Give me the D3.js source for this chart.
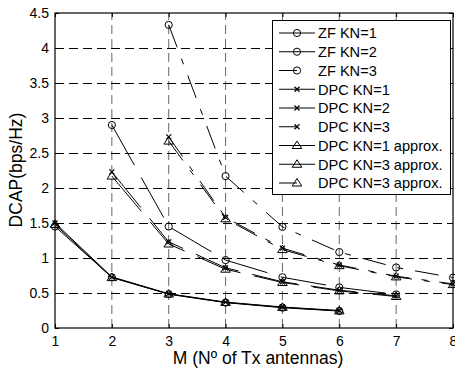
<!DOCTYPE html>
<html><head><meta charset="utf-8">
<script src="https://cdn.jsdelivr.net/npm/d3@7"></script>
<style>body{margin:0;background:#fff}svg{display:block}text{font-family:"Liberation Sans",Arial,sans-serif;fill:#000}</style>
</head><body><svg id="c" width="455" height="370"></svg>
<script>
const xTicks = [1,2,3,4,5,6,7,8];
const yTicks = [0,0.5,1,1.5,2,2.5,3,3.5,4,4.5];
const yTickLabels = ["0","0.5","1","1.5","2","2.5","3","3.5","4","4.5"];
const xLabel = "M (Nº of Tx antennas)";
const yLabel = "DCAP(bps/Hz)";

const zfKN1_M = [1,2,3,4,5,6];
const zfKN1 = [1.45,0.725,0.483,0.363,0.29,0.242];
const zfKN2_M = [2,3,4,5,6,7];
const zfKN2 = [2.9,1.45,0.97,0.725,0.58,0.48];
const zfKN3_M = [3,4,5,6,7,8];
const zfKN3 = [4.33,2.17,1.445,1.085,0.865,0.72];
const dpcKN1_M = [1,2,3,4,5,6];
const dpcKN1 = [1.5,0.73,0.49,0.37,0.3,0.25];
const dpcKN2_M = [2,3,4,5,6,7];
const dpcKN2 = [2.23,1.23,0.86,0.66,0.54,0.46];
const dpcKN3_M = [3,4,5,6,7,8];
const dpcKN3 = [2.73,1.58,1.14,0.9,0.74,0.63];
const apKN1_M = [1,2,3,4,5,6];
const apKN1 = [1.48,0.72,0.485,0.365,0.295,0.245];
const apKN2_M = [2,3,4,5,6,7];
const apKN2 = [2.17,1.2,0.84,0.65,0.53,0.45];
const apKN3_M = [3,4,5,6,7,8];
const apKN3 = [2.67,1.56,1.12,0.89,0.73,0.62];

const labels = ["ZF KN=1","ZF KN=2","ZF KN=3","DPC KN=1","DPC KN=2","DPC KN=3","DPC KN=1 approx.","DPC KN=3 approx.","DPC KN=3 approx."];
const markers = ["o","o","o","x","x","x","t","t","t"];
const dashes = [null,"46,14","24,12,6,12",null,"46,14","24,12,6,12",null,"46,14","24,12,6,12"];
const seriesM = [zfKN1_M,zfKN2_M,zfKN3_M,dpcKN1_M,dpcKN2_M,dpcKN3_M,apKN1_M,apKN2_M,apKN3_M];
const seriesV = [zfKN1,zfKN2,zfKN3,dpcKN1,dpcKN2,dpcKN3,apKN1,apKN2,apKN3];

const svg = d3.select("#c");
const L=55,R=453,T=13,B=328;
const x = d3.scaleLinear().domain([1,8]).range([L,R]);
const y = d3.scaleLinear().domain([0,4.5]).range([B,T]);

// grid
const g = svg.append("g");
g.selectAll(".vg").data(xTicks.slice(1,-1)).enter().append("line")
 .attr("x1",d=>x(d)).attr("x2",d=>x(d)).attr("y1",B).attr("y2",T)
 .attr("stroke","#666").attr("stroke-width",1).attr("stroke-dasharray","9,5");
g.selectAll(".hg").data(yTicks.slice(1,-1)).enter().append("line")
 .attr("y1",d=>Math.round(y(d))+0.5).attr("y2",d=>Math.round(y(d))+0.5).attr("x1",L).attr("x2",R)
 .attr("stroke","#000").attr("stroke-width",1).attr("stroke-dasharray","9,5");

// axes
const xa = svg.append("g").attr("transform",`translate(0,${B})`)
 .call(d3.axisBottom(x).tickValues(xTicks).tickFormat(d3.format("d")).tickSizeInner(-4).tickSizeOuter(0).tickPadding(8));
const xt = svg.append("g").attr("transform",`translate(0,${T})`)
 .call(d3.axisTop(x).tickValues(xTicks).tickFormat("").tickSizeInner(-4).tickSizeOuter(0));
const ya = svg.append("g").attr("transform",`translate(${L},0)`)
 .call(d3.axisLeft(y).tickValues(yTicks).tickFormat((d,i)=>yTickLabels[i]).tickSizeInner(-4).tickSizeOuter(0).tickPadding(6));
const yr = svg.append("g").attr("transform",`translate(${R},0)`)
 .call(d3.axisRight(y).tickValues(yTicks).tickFormat("").tickSizeInner(-4).tickSizeOuter(0));
[xa,xt,ya,yr].forEach(a=>{a.select(".domain").remove();a.selectAll("line").attr("stroke","#000");a.selectAll("text").style("font-size","14px").attr("font-family","Liberation Sans, Arial, sans-serif");});

// lines
const line = d3.line().x(d=>x(d[0])).y(d=>y(d[1]));
function drawMarker(sel,type,cx,cy){
  if(type==="o") sel.append("circle").attr("cx",cx).attr("cy",cy).attr("r",3.6).attr("fill","none").attr("stroke","#000").attr("stroke-width",1);
  else if(type==="x") sel.append("path").attr("d",`M${cx-2.5},${cy-2.5}L${cx+2.5},${cy+2.5}M${cx-2.5},${cy+2.5}L${cx+2.5},${cy-2.5}`).attr("stroke","#000").attr("stroke-width",1.2);
  else sel.append("path").attr("d",`M${cx},${cy-4.5}L${cx+4.8},${cy+3}L${cx-4.8},${cy+3}Z`).attr("fill","none").attr("stroke","#000").attr("stroke-width",1);
}
seriesV.forEach((vals,i)=>{
  const pts = vals.map((v,j)=>[seriesM[i][j],v]);
  const p = svg.append("path").attr("d",line(pts)).attr("fill","none").attr("stroke","#000").attr("stroke-width",1);
  if(dashes[i]) p.attr("stroke-dasharray",dashes[i]);
  const mg = svg.append("g");
  pts.forEach(pt=>drawMarker(mg,markers[i],x(pt[0]),y(pt[1])));
});

// box
svg.append("rect").attr("x",L).attr("y",T).attr("width",R-L).attr("height",B-T).attr("fill","none").attr("stroke","#000").attr("stroke-width",1.2);

// axis labels
svg.append("text").attr("x",258).attr("y",364).attr("text-anchor","middle").style("font-size","17.5px").text(xLabel);
svg.append("text").attr("transform","translate(22,170) rotate(-90)").attr("text-anchor","middle").style("font-size","17.5px").text(yLabel);

// legend
const lg = svg.append("g");
lg.append("rect").attr("x",272.5).attr("y",20.5).attr("width",178).attr("height",174).attr("fill","#fff").attr("stroke","#000").attr("stroke-width",1);
labels.forEach((lab,i)=>{
  const cy = 33 + i*18.75;
  const l = lg.append("line").attr("x1",279).attr("x2",315).attr("y1",cy).attr("y2",cy).attr("stroke","#000").attr("stroke-width",1);
  if(dashes[i]) l.attr("stroke-dasharray", i%3===2 ? "18,30" : dashes[i]);
  drawMarker(lg,markers[i],297,cy);
  lg.append("text").attr("x",318).attr("y",cy).attr("dy","0.36em").style("font-size","14.6px").text(lab);
});
</script></body></html>
